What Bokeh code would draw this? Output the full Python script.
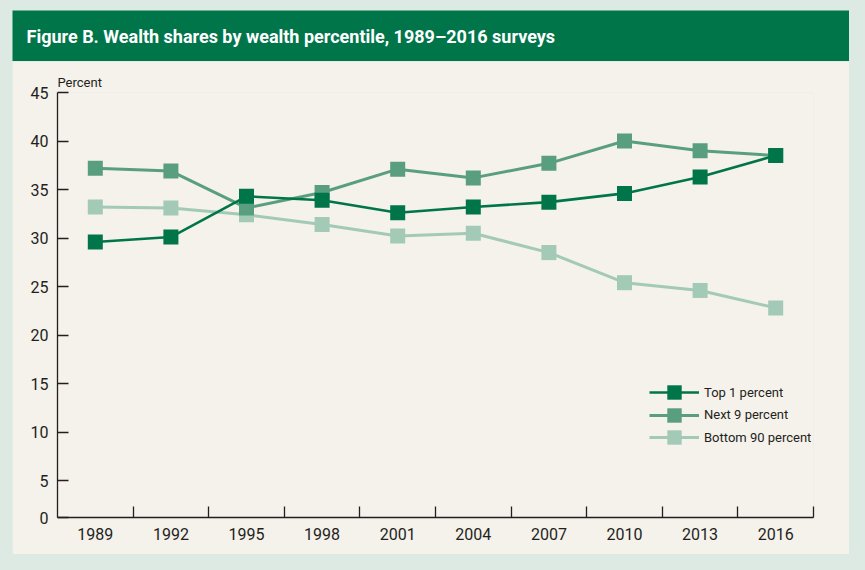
from bokeh.plotting import figure
from bokeh.layouts import column
from bokeh.models import Range1d, FixedTicker, Label, Legend, LegendItem
from bokeh.embed import file_html
from bokeh.resources import INLINE

# ---- data ----
years = [1989, 1992, 1995, 1998, 2001, 2004, 2007, 2010, 2013, 2016]
top1 = [29.6, 30.1, 34.3, 33.9, 32.6, 33.2, 33.7, 34.6, 36.3, 38.5]
next9 = [37.2, 36.9, 33.1, 34.7, 37.1, 36.2, 37.7, 40.0, 39.0, 38.5]
bottom90 = [33.2, 33.1, 32.4, 31.4, 30.2, 30.5, 28.5, 25.4, 24.6, 22.8]
series_names = ["Top 1 percent", "Next 9 percent", "Bottom 90 percent"]
y_ticks = [5, 10, 15, 20, 25, 30, 35, 40, 45]
title_text = "Figure B. Wealth shares by wealth percentile, 1989\u20132016 surveys"
unit_text = "Percent"

# ---- styles ----
FONT = "Roboto"
INK = "#231f20"
C_TOP = "#00754a"
C_NEXT = "#5a9e80"
C_BOT = "#a3cab7"
CREAM = "#f5f1eb"
MINT = "#dde9e3"
PANEL_W = 837
Y0 = 1.2  # visual bottom of the axis (labelled 0)

# ---- title bar ----
t = figure(width=PANEL_W, height=51, output_backend="svg", toolbar_location=None,
           x_range=Range1d(0, 1), y_range=Range1d(0, 1),
           x_axis_type=None, y_axis_type=None, min_border=0)
t.frame_align = False
t.grid.visible = False
t.background_fill_color = C_TOP
t.border_fill_color = C_TOP
t.outline_line_color = None
t.add_layout(Label(x=0, y=0.5, x_offset=14, text=title_text, text_color="white",
                   text_font=FONT, text_font_size="18px", text_font_style="bold",
                   text_baseline="middle"))
t.margin = (10, 0, 0, 12)

# ---- main chart ----
p = figure(width=PANEL_W, height=493, output_backend="svg", toolbar_location=None,
           x_range=Range1d(1987.5, 2017.5), y_range=Range1d(Y0, 45),
           min_border_left=45, min_border_right=36, min_border_top=31,
           min_border_bottom=37)
p.frame_align = False
p.border_fill_color = CREAM
p.background_fill_color = CREAM
p.outline_line_color = None
p.xgrid.visible = False
p.ygrid.visible = False
p.margin = (0, 0, 0, 12)

p.title.text = unit_text
p.title.text_font = FONT
p.title.text_font_size = "13px"
p.title.text_font_style = "normal"
p.title.text_color = INK
p.title.align = "left"
p.title.standoff = 6

xa = p.xaxis[0]
xa.ticker = FixedTicker(ticks=years, minor_ticks=[y + 1.5 for y in years])
xa.major_tick_line_color = None
xa.major_tick_in = 0
xa.major_tick_out = 0
xa.minor_tick_in = 11
xa.minor_tick_out = 0
xa.minor_tick_line_color = INK
xa.minor_tick_line_width = 1.3
xa.axis_line_color = INK
xa.axis_line_width = 1.3
xa.major_label_text_font = FONT
xa.major_label_text_font_size = "16px"
xa.major_label_text_color = INK
xa.major_label_standoff = 10

ya = p.yaxis[0]
ya.ticker = FixedTicker(ticks=[Y0] + y_ticks)
ya.major_label_overrides = {Y0: "0"}
ya.major_tick_in = 11
ya.major_tick_out = 0
ya.major_tick_line_color = INK
ya.major_tick_line_width = 1.3
ya.minor_tick_line_color = None
ya.axis_line_color = INK
ya.axis_line_width = 1.3
ya.major_label_text_font = FONT
ya.major_label_text_font_size = "16px"
ya.major_label_text_color = INK
ya.major_label_standoff = 9

# series (bottom first so Top 1 sits on top)
specs = {"Bottom 90 percent": (bottom90, C_BOT, 3),
         "Next 9 percent": (next9, C_NEXT, 3),
         "Top 1 percent": (top1, C_TOP, 2.6)}
items = {}
for name in ["Bottom 90 percent", "Next 9 percent", "Top 1 percent"]:
    vals, col, lw = specs[name]
    l = p.line(years, vals, line_color=col, line_width=lw)
    s = p.scatter(years, vals, marker="square", size=15, fill_color=col,
                  line_color=None)
    items[name] = [l, s]

# one legend box per entry so rows can sit closer than the glyph height
ROW_PITCH = 22.5
for k, name in enumerate(series_names):
    lg = Legend(items=[LegendItem(label=name, renderers=items[name])],
                location=(592, 107 - k * ROW_PITCH), padding=0, margin=0, spacing=0,
                glyph_width=50, glyph_height=36, label_height=36,
                label_standoff=5, background_fill_alpha=0, border_line_color=None,
                label_text_font=FONT, label_text_font_size="13px",
                label_text_color=INK)
    p.add_layout(lg)

layout = column(t, p, width=865, height=570, spacing=0,
                styles={"background-color": MINT})

open("out.html", "w").write(file_html(layout, INLINE))
